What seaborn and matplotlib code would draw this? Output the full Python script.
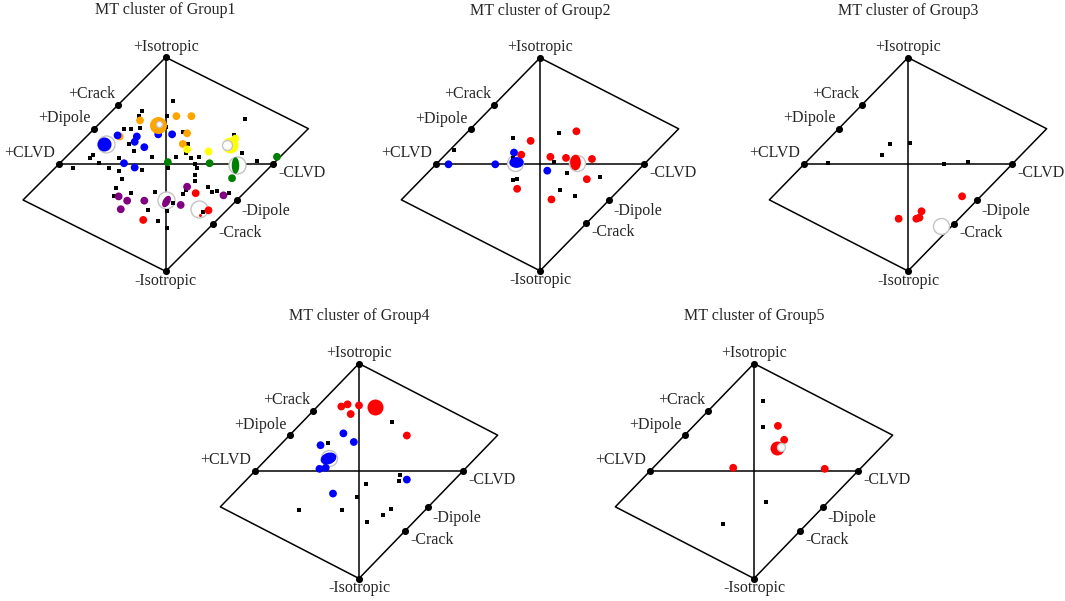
"""Hudson source-type plots of the MT clusters, five groups."""

import matplotlib

matplotlib.use("Agg")
import matplotlib.pyplot as plt
import seaborn as sns
from matplotlib.markers import MarkerStyle
from matplotlib.transforms import Affine2D

sns.set_theme(style="white")
plt.rcParams["font.family"] = ["Liberation Serif", "DejaVu Serif"]

TITLES = [
    "MT cluster of Group1",
    "MT cluster of Group2",
    "MT cluster of Group3",
    "MT cluster of Group4",
    "MT cluster of Group5",
]

# Hudson diamond (u, v)
DIAMOND_U = [0, 4 / 3, 0, -4 / 3, 0]
DIAMOND_V = [1, 1 / 3, -1, -1 / 3, 1]
VERTEX_U = [0, 0, -1, 1, -4 / 9, -2 / 3, 2 / 3, 4 / 9]
VERTEX_V = [1, -1, 0, 0, 5 / 9, 1 / 3, -1 / 3, -5 / 9]
VERTEX_LABELS = ["+Isotropic", "-Isotropic", "+CLVD", "-CLVD",
                 "+Crack", "+Dipole", "-Dipole", "-Crack"]

PALETTE = {
    "blue": "#0000ff",
    "red": "#ff0000",
    "orange": "#ffa500",
    "yellow": "#ffff00",
    "green": "#008000",
    "purple": "#800080",
}

# ---- Group1 ----
G1_BLACK_U = [0.07, -0.22, -0.25, 0.01, 0.74, -0.39, -0.32, -0.24, -0.12, 0.00,
              0.16, 0.21, 0.19, 0.10, 0.24, 0.31, 0.27, 0.29, 0.64, 0.71,
              0.85, 0.02, -0.34, -0.30, -0.13, -0.71, -0.68, -0.62, -0.53, -0.44,
              -0.87, -0.44, -0.41, -0.22, -0.46, -0.32, -0.48, -0.10, -0.17, -0.07,
              0.01, 0.27, 0.27, 0.19, 0.16, 0.40, 0.43, 0.48, 0.59, 0.35,
              0.07, 0.01]
G1_BLACK_V = [0.59, 0.50, 0.45, 0.45, 0.42, 0.33, 0.33, 0.34, 0.34, 0.35,
              0.30, 0.19, 0.11, 0.07, 0.06, 0.07, 0.00, -0.03, 0.27, 0.11,
              0.03, -0.03, 0.19, 0.12, 0.07, 0.06, 0.09, 0.01, -0.03, 0.06,
              -0.03, -0.06, -0.14, -0.05, -0.22, -0.27, -0.30, -0.26, -0.43, -0.53,
              -0.44, -0.10, -0.16, -0.24, -0.28, -0.21, -0.26, -0.25, -0.27, -0.45,
              -0.36, -0.60]
G1_PT_U = [-0.24, -0.43, 0.10, 0.24, 0.20, 0.16,
           -0.45, -0.27, -0.29, -0.20, -0.39, -0.29, -0.07, 0.06,
           0.65, 0.40, 0.20,
           0.02, 0.41, 1.04, 0.62,
           0.20, 0.14, 0.54, -0.44, -0.36, -0.20, -0.42,
           -0.21, 0.28, 0.40]
G1_PT_V = [0.41, 0.26, 0.45, 0.45, 0.29, 0.19,
           0.27, 0.26, 0.21, 0.16, 0.01, -0.03, 0.28, 0.28,
           0.24, 0.12, 0.14,
           0.02, 0.01, 0.07, -0.13,
           -0.21, -0.38, -0.29, -0.30, -0.34, -0.34, -0.42,
           -0.52, -0.27, -0.43]
G1_PT_C = (["orange"] * 6 + ["blue"] * 8 + ["yellow"] * 3 + ["green"] * 4
           + ["purple"] * 7 + ["red"] * 3)
G1_CEN_U = [-0.58, -0.07, 0.60, 0.65, 0.00, 0.32]
G1_CEN_V = [0.19, 0.37, 0.18, -0.01, -0.34, -0.47]
G1_CEN_C = ["blue", "orange", "yellow", "green", "purple", "red"]
G1_RING_U = [-0.56, -0.065, 0.57, 0.67, 0.00, 0.31]
G1_RING_V = [0.19, 0.375, 0.18, -0.01, -0.33, -0.42]

# ---- Group2 ----
G2_BLACK_U = [-0.26, 0.18, -0.83, -0.26, 0.13, 0.26, 0.34, 0.58, -0.26, -0.22, 0.19, 0.34]
G2_BLACK_V = [0.25, 0.29, 0.13, 0.06, 0.02, -0.08, -0.01, -0.12, -0.15, -0.14, -0.24, -0.30]
G2_PT_U = [-0.09, 0.35, -0.18, 0.10, 0.25, 0.50, 0.45, -0.22, 0.11,
           -0.88, -0.43, -0.25, 0.07]
G2_PT_V = [0.22, 0.31, 0.09, 0.07, 0.06, 0.05, -0.14, -0.23, -0.33,
           0.00, 0.00, 0.11, -0.06]
G2_PT_C = ["red"] * 9 + ["blue"] * 4
G2_CEN_U = [-0.23, 0.34]
G2_CEN_V = [0.02, 0.02]
G2_CEN_C = ["blue", "red"]
G2_RING_U = [-0.24, 0.36]
G2_RING_V = [0.01, 0.01]

# ---- Group3 ----
G3_BLACK_U = [-0.17, 0.02, -0.25, -0.77, 0.35, 0.58]
G3_BLACK_V = [0.19, 0.20, 0.09, 0.01, 0.00, 0.02]
G3_PT_U = [0.52, 0.13, 0.11, 0.08, -0.09]
G3_PT_V = [-0.30, -0.44, -0.50, -0.51, -0.51]
G3_PT_C = ["red"] * 5
G3_CEN_U, G3_CEN_V, G3_CEN_C = [], [], []
G3_RING_U = [0.32]
G3_RING_V = [-0.58]

# ---- Group4 ----
G4_BLACK_U = [-0.30, 0.32, 0.39, 0.38, 0.07, -0.02, -0.58, -0.16, 0.31, 0.23, 0.08]
G4_BLACK_V = [0.26, 0.46, -0.04, -0.09, -0.12, -0.24, -0.36, -0.36, -0.35, -0.41, -0.47]
G4_PT_U = [-0.17, -0.11, 0.00, -0.08, 0.46,
           -0.15, -0.05, -0.37, -0.38, 0.46, -0.25, -0.32]
G4_PT_V = [0.60, 0.62, 0.61, 0.53, 0.33,
           0.35, 0.27, 0.24, 0.02, -0.08, -0.21, 0.03]
G4_PT_C = ["red"] * 5 + ["blue"] * 7
G4_CEN_U = [0.15, -0.30]
G4_CEN_V = [0.60, 0.12]
G4_CEN_C = ["red", "blue"]
G4_RING_U = [-0.29]
G4_RING_V = [0.12]

# ---- Group5 ----
G5_BLACK_U = [0.09, 0.09, 0.12, -0.30]
G5_BLACK_V = [0.65, 0.41, -0.29, -0.49]
G5_PT_U = [0.23, 0.29, -0.20, 0.68]
G5_PT_V = [0.42, 0.29, 0.03, 0.02]
G5_PT_C = ["red"] * 4
G5_CEN_U = [0.22]
G5_CEN_V = [0.21]
G5_CEN_C = ["red"]
G5_RING_U = [0.26]
G5_RING_V = [0.22]

# ---- styling (sizes in pixels) ----
# centroid: (diameter, stretch x, stretch y, rotation)
CEN_STYLE = [
    [(14, 1, 1, 0), (17, 1, 1, 0), (16, 1, 1, 0), (10, 0.75, 1.65, 0), (9, 0.8, 1.4, -30), (3, 1, 1, 0)],
    [(12, 1.2, 0.9, 0), (12, 0.9, 1.3, 0)],
    [],
    [(16, 1, 1, 0), (12, 1.35, 0.95, 20)],
    [(14, 1, 1, 0)],
]
# ring: (diameter, drawn on top of centroid)
RING_STYLE = [
    [(17, False), (6, True), (10, True), (17, False), (17, False), (17, False)],
    [(16, False), (16, False)],
    [(16, False)],
    [(16, False)],
    [(8, True)],
]
# panel centre (px) and px per unit
LAYOUT = [
    (165.7, 164.3, 107.0, 107.0),
    (540.0, 164.3, 104.0, 106.5),
    (908.0, 164.3, 104.0, 106.7),
    (359.0, 471.0, 104.0, 107.5),
    (754.0, 471.0, 104.0, 107.5),
]
LABEL_POS = [
    (0.0, 1.10, "center"), (0.0, -1.09, "center"), (-1.035, 0.105, "right"),
    (1.05, -0.08, "left"), (-0.47, 0.657, "right"), (-0.70, 0.43, "right"),
    (0.71, -0.436, "left"), (0.49, -0.64, "left"),
]

W, H = 1065, 601
XLIM = (-1.6, 1.6)
YLIM = (-1.35, 1.5)
FS = 11.5


def area(d_px):
    return (d_px * 0.72) ** 2


def draw_panel(ax, title, black_u, black_v, pt_u, pt_v, pt_c,
               cen_u, cen_v, cen_c, cen_style, ring_u, ring_v, ring_style):
    ax.plot(DIAMOND_U, DIAMOND_V, color="black", lw=1.1, zorder=1)
    ax.plot([-1, 1], [0, 0], color="black", lw=1.1, zorder=1)
    ax.plot([0, 0], [1, -1], color="black", lw=1.1, zorder=1)
    sns.scatterplot(x=VERTEX_U, y=VERTEX_V, color="black", s=26, linewidth=0,
                    legend=False, ax=ax, zorder=6)

    sns.scatterplot(x=black_u, y=black_v, color="black", marker="s", s=7,
                    linewidth=0, legend=False, ax=ax, zorder=3)
    sns.scatterplot(x=pt_u, y=pt_v, hue=pt_c, palette=PALETTE, s=area(7.8),
                    linewidth=0, legend=False, ax=ax, zorder=3)

    for u, v, (d, top) in zip(ring_u, ring_v, ring_style):
        ax.scatter([u], [v], s=area(d), facecolor="white", edgecolor="#c4c4c4",
                   linewidth=1.0, zorder=5 if top else 2)
    for u, v, c, (d, sx, sy, rot) in zip(cen_u, cen_v, cen_c, cen_style):
        m = MarkerStyle("o", transform=Affine2D().scale(sx, sy).rotate_deg(rot))
        sns.scatterplot(x=[u], y=[v], color=PALETTE[c], marker=m, s=area(d),
                        linewidth=0, legend=False, ax=ax, zorder=4)

    for (x, y, ha), lab in zip(LABEL_POS, VERTEX_LABELS):
        ax.text(x, y, lab, ha=ha, va="center", fontsize=FS)
    ax.text(0, 1.44, title, ha="center", va="center", fontsize=FS)

    ax.set_xlim(*XLIM)
    ax.set_ylim(*YLIM)
    ax.axis("off")


fig = plt.figure(figsize=(W / 100, H / 100), dpi=100)
fig.patch.set_facecolor("white")

groups = [
    (G1_BLACK_U, G1_BLACK_V, G1_PT_U, G1_PT_V, G1_PT_C, G1_CEN_U, G1_CEN_V, G1_CEN_C, G1_RING_U, G1_RING_V),
    (G2_BLACK_U, G2_BLACK_V, G2_PT_U, G2_PT_V, G2_PT_C, G2_CEN_U, G2_CEN_V, G2_CEN_C, G2_RING_U, G2_RING_V),
    (G3_BLACK_U, G3_BLACK_V, G3_PT_U, G3_PT_V, G3_PT_C, G3_CEN_U, G3_CEN_V, G3_CEN_C, G3_RING_U, G3_RING_V),
    (G4_BLACK_U, G4_BLACK_V, G4_PT_U, G4_PT_V, G4_PT_C, G4_CEN_U, G4_CEN_V, G4_CEN_C, G4_RING_U, G4_RING_V),
    (G5_BLACK_U, G5_BLACK_V, G5_PT_U, G5_PT_V, G5_PT_C, G5_CEN_U, G5_CEN_V, G5_CEN_C, G5_RING_U, G5_RING_V),
]

for i, g in enumerate(groups):
    cx, cy, sx, sy = LAYOUT[i]
    left = (cx + XLIM[0] * sx) / W
    width = (XLIM[1] - XLIM[0]) * sx / W
    bottom = (H - cy + YLIM[0] * sy) / H
    height = (YLIM[1] - YLIM[0]) * sy / H
    ax = fig.add_axes([left, bottom, width, height])
    bu, bv, pu, pv, pc, cu, cv, cc, ru, rv = g
    draw_panel(ax, TITLES[i], bu, bv, pu, pv, pc, cu, cv, cc, CEN_STYLE[i], ru, rv, RING_STYLE[i])

fig.savefig("out.png", dpi=100, facecolor="white")
plt.close(fig)
